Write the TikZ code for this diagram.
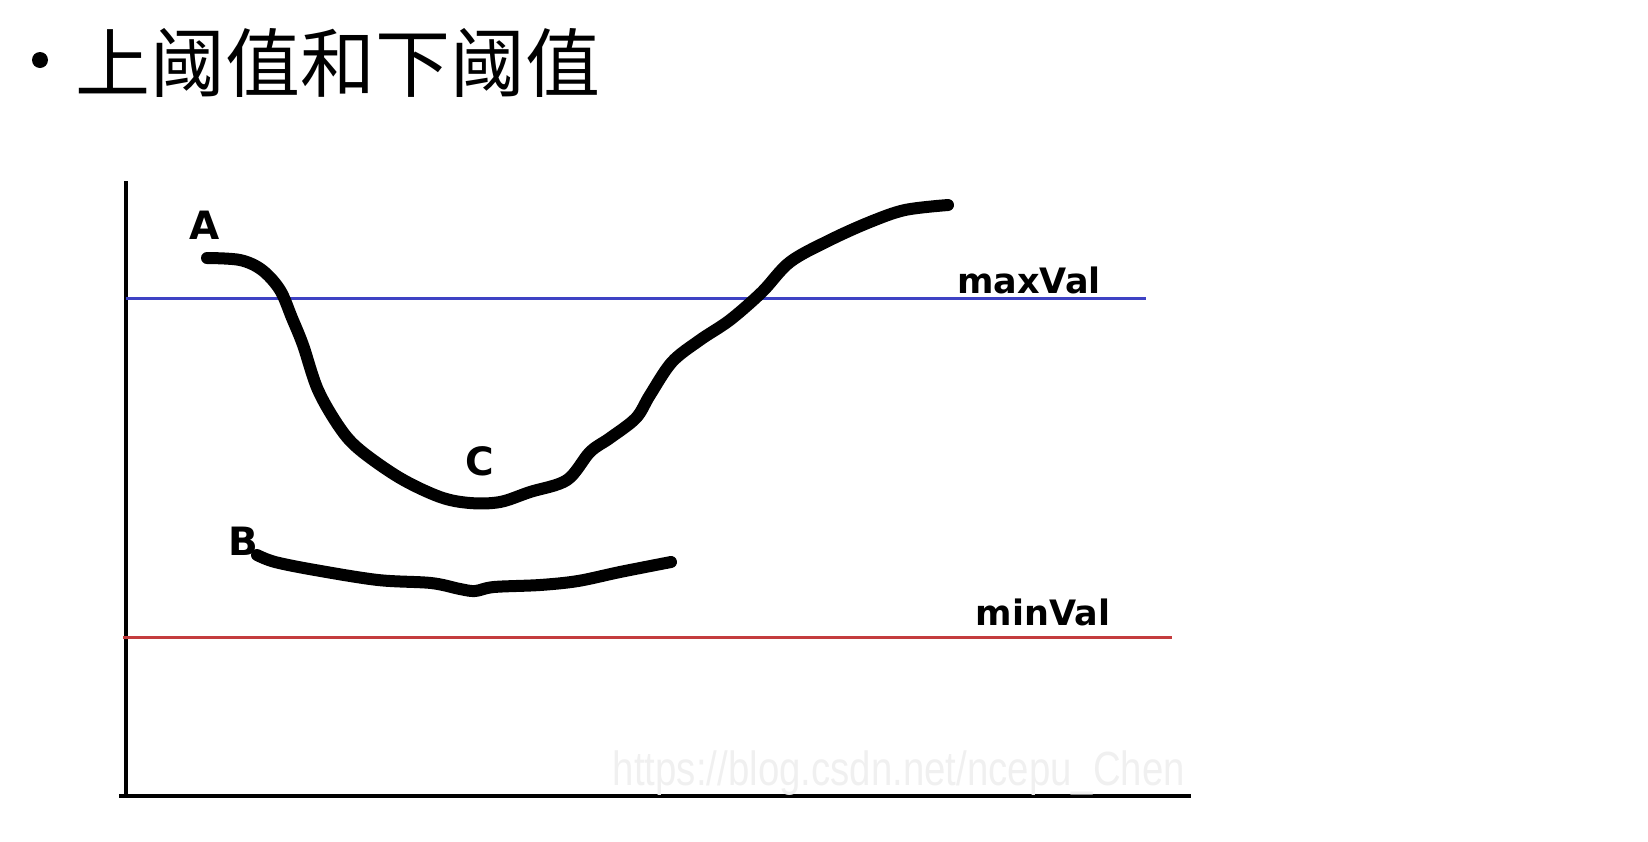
\documentclass[tikz,border=0pt]{standalone}
\usepackage{fontspec}
\newfontfamily\cjk{Noto Sans CJK SC}
\newfontfamily\labfont{DejaVu Sans}
\newfontfamily\wmfont{Liberation Sans}
\usepackage{tikz}
\usetikzlibrary{positioning}
\definecolor{maxblue}{RGB}{62,66,196}
\definecolor{minred}{RGB}{196,60,62}
\tikzset{
  axis/.style      = {line width=1.6pt, black},
  thresh/.style    = {line width=1.5pt},
  curve/.style     = {line width=6pt, line join=round, line cap=round},
  headlab/.style   = {inner sep=0pt, font=\cjk\fontsize{37.5}{40}\selectfont},
  dotmark/.style   = {circle, fill=black, inner sep=0pt, minimum size=8pt},
  ptlab/.style     = {inner sep=0pt, font=\labfont\bfseries\fontsize{19.5}{22}\selectfont},
  vallab/.style    = {inner sep=0pt, font=\labfont\bfseries\fontsize{17.5}{20}\selectfont},
  wmark/.style     = {inner sep=0pt, text=black!6, xscale=0.8,
                      font=\wmfont\fontsize{24}{26}\selectfont},
}
\begin{document}
\begin{tikzpicture}[x=0.5pt, y=-0.5pt]
  \useasboundingbox (0,0) rectangle (1648,841);
  % ---- heading
  \node[dotmark] (dot) at (40,60) {};
  \node[headlab, anchor=west] (title) at (75,63) {上阈值和下阈值};
  % ---- axes
  \coordinate (o) at (126,796);
  \coordinate (ytop) at (126,181);
  \coordinate (xend) at (1191,796);
  \draw[axis] (ytop) -- (o);
  \draw[axis] (119,796) -- (xend);
  % ---- thresholds
  \coordinate (maxl) at (126,298);
  \coordinate (maxr) at (1146,298);
  \coordinate (minl) at (123,637);
  \coordinate (minr) at (1172,637);
  \draw[thresh, maxblue] (maxl) -- (maxr);
  \draw[thresh, minred] (minl) -- (minr);
  \node[vallab] (maxv) at (1029,280) {maxVal};
  \node[vallab] (minv) at (1043,612) {minVal};
  % ---- edge curves
  \draw[curve] plot[smooth, tension=0.55] coordinates {
    (207,258) (240,260) (262,270) (280,290) (292,318) (303,345) (318,390)
    (340,428) (360,450) (400,478) (440,497) (470,503) (500,502) (530,492)
    (567,480) (590,452) (610,438) (636,418) (650,395) (672,362) (700,340)
    (730,320) (762,292) (790,262) (830,240) (870,222) (905,210) (948,205)};
  \draw[curve] plot[smooth, tension=0.55] coordinates {
    (257,555) (275,562) (315,570) (378,580) (431,583) (460,589) (475,591)
    (494,587) (540,585) (578,581) (620,572) (671,562)};
  \node[ptlab] (ptA) at (205,225) {A};
  \node[ptlab] (ptB) at (243,541) {B};
  \node[ptlab] (ptC) at (480,461) {C};
  % ---- watermark
  \node[wmark] (wm) at (899,773) {https://blog.csdn.net/ncepu\_Chen};
\end{tikzpicture}
\end{document}
